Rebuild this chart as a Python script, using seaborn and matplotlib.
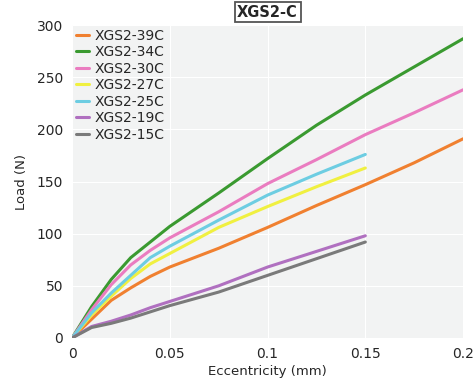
import numpy as np
import pandas as pd
import matplotlib
matplotlib.use('Agg')
import matplotlib.pyplot as plt
import seaborn as sns

x_long = [0, 0.01, 0.02, 0.03, 0.04, 0.05, 0.075, 0.1, 0.125, 0.15, 0.175, 0.2]
x_short = [0, 0.01, 0.02, 0.03, 0.04, 0.05, 0.075, 0.1, 0.125, 0.15]

load_39c = [0, 18, 36, 48, 59, 68, 86, 106, 127, 147, 168, 191]
load_34c = [0, 30, 56, 77, 92, 107, 139, 172, 204, 233, 260, 287]
load_30c = [0, 27, 51, 70, 84, 96, 121, 148, 171, 195, 216, 238]
load_27c = [0, 22, 40, 57, 71, 81, 106, 126, 145, 163]
load_25c = [0, 24, 43, 60, 77, 88, 113, 137, 157, 176]
load_19c = [0, 11, 16, 22, 29, 35, 50, 68, 83, 98]
load_15c = [0, 10, 14, 19, 25, 31, 44, 60, 76, 92]

names = ['XGS2-39C', 'XGS2-34C', 'XGS2-30C', 'XGS2-27C', 'XGS2-25C', 'XGS2-19C', 'XGS2-15C']
colors = ['#f08030', '#3a9a30', '#ea7cc0', '#f0f040', '#6dcde2', '#b070c0', '#7a7a7a']

series = [(x_long, load_39c), (x_long, load_34c), (x_long, load_30c), (x_short, load_27c),
          (x_short, load_25c), (x_short, load_19c), (x_short, load_15c)]
rows = []
for name, (xs, ys) in zip(names, series):
    for xv, yv in zip(xs, ys):
        rows.append({'ecc': xv, 'load': yv, 'sample': name})
df = pd.DataFrame(rows)

sns.set_style('darkgrid', {'axes.facecolor': '#f2f3f3', 'grid.color': 'white'})
plt.rcParams['font.family'] = ['DejaVu Sans']

fig = plt.figure(figsize=(4.74, 3.81), dpi=100)
ax = fig.add_axes([0.152, 0.113, 0.825, 0.821])
sns.lineplot(data=df, x='ecc', y='load', hue='sample', palette=dict(zip(names, colors)),
             hue_order=names, linewidth=2.2, ax=ax)
ax.set_xlim(0, 0.2)
ax.set_ylim(0, 300)
ax.set_xticks([0, 0.05, 0.1, 0.15, 0.2])
ax.set_xticklabels(['0', '0.05', '0.1', '0.15', '0.2'])
ax.set_yticks([0, 50, 100, 150, 200, 250, 300])
ax.tick_params(labelsize=10, pad=3)
ax.set_xlabel('Eccentricity (mm)', fontsize=9.5, labelpad=3)
ax.set_ylabel('Load (N)', fontsize=9.5, labelpad=6)
for s in ax.spines.values():
    s.set_visible(False)
leg = ax.legend(loc='upper left', frameon=False, fontsize=10, handlelength=1.0,
                labelspacing=0.18, borderaxespad=0.15, handletextpad=0.4, borderpad=0.1)
for line in leg.get_lines():
    line.set_linewidth(2.2)
ax.set_title('XGS2-C', fontsize=10.5, fontweight='bold', pad=6,
             bbox=dict(facecolor='white', edgecolor='#555555', boxstyle='square,pad=0.18', linewidth=1.3))

fig.savefig('out.png', dpi=100)
